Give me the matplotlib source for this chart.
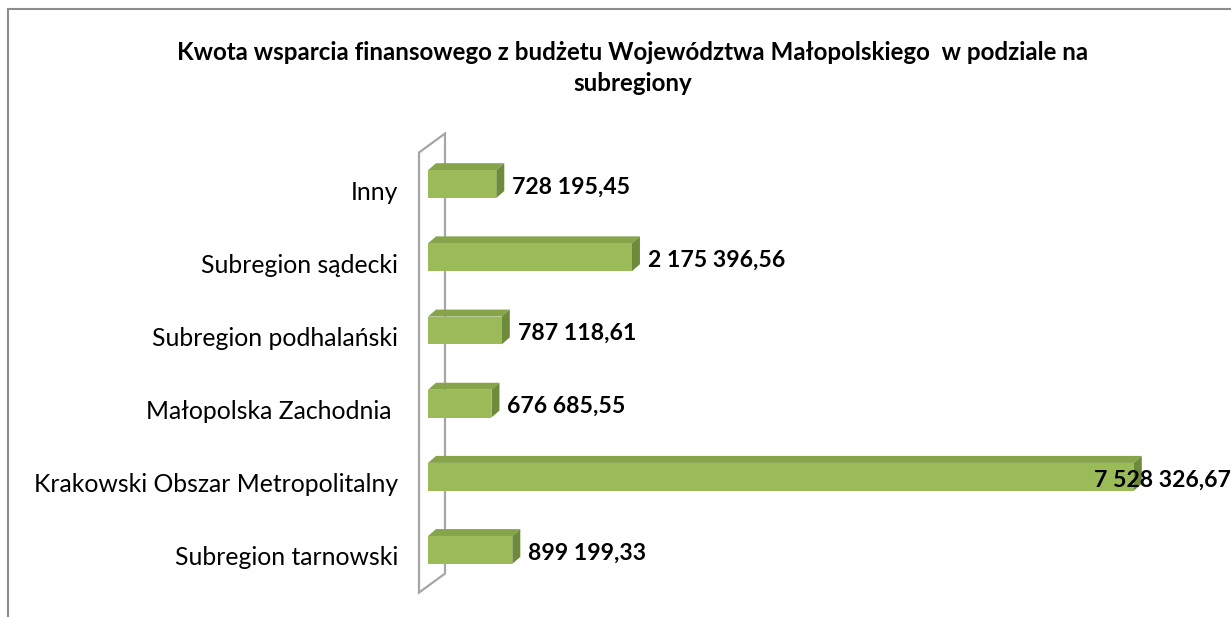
import numpy as np
import matplotlib.pyplot as plt
from matplotlib.patches import Polygon
from matplotlib.lines import Line2D

plt.rcParams['font.family'] = ['Lato', 'DejaVu Sans']

# data (bottom to top)
categories = ['Subregion tarnowski', 'Krakowski Obszar Metropolitalny',
              'Małopolska Zachodnia ', 'Subregion podhalański',
              'Subregion sądecki', 'Inny']
values = [899199.33, 7528326.67, 676685.55, 787118.61, 2175396.56, 728195.45]
value_labels = ['899 199,33', '7 528 326,67', '676 685,55', '787 118,61',
                '2 175 396,56', '728 195,45']
title = 'Kwota wsparcia finansowego z budżetu Województwa Małopolskiego  w podziale na\nsubregiony'

W, H = 1231, 617
fig = plt.figure(figsize=(W / 100, H / 100), dpi=100)
ax = fig.add_axes([428 / W, 0.0493, 750 / W, 0.7116])
ax.set_xlim(0, 8.0e6)
ax.set_ylim(-0.5, len(categories) - 0.5)
ax.axis('off')

# pixel -> data unit conversions
ppx = 8.0e6 / 750          # data x per pixel
ppy = 6.0 / 439            # data y per pixel

front = '#9BBB59'
top_c = '#86A44A'
side_c = '#6D8B3A'
wall_c = '#A6A6A6'

# side wall
wall = Polygon([(-9 * ppx, -0.5 - 6 * ppy), (17 * ppx, -0.5 + 13 * ppy),
                (17 * ppx, 5.5 + 14 * ppy), (-9 * ppx, 5.5 - 5 * ppy)],
               closed=True, facecolor='none', edgecolor=wall_c, lw=1.6,
               clip_on=False, zorder=1)
ax.add_patch(wall)

bh = 0.38
dx, dy = 8 * ppx, 7 * ppy
ypos = np.arange(len(categories))
ax.barh(ypos, values, height=bh, color=front, zorder=3)
for y, v in zip(ypos, values):
    t = y + bh / 2
    b = y - bh / 2
    ax.add_patch(Polygon([(0, t), (v, t), (v + dx, t + dy), (dx, t + dy)],
                         facecolor=top_c, edgecolor='none', zorder=2, clip_on=False))
    ax.add_patch(Polygon([(v, b), (v, t), (v + dx, t + dy), (v + dx, b + dy)],
                         facecolor=side_c, edgecolor='none', zorder=2, clip_on=False))

vmax = max(values)
for y, v, lab in zip(ypos, values, value_labels):
    x = v + 16 * ppx if v < vmax else v - 40 * ppx
    ax.text(x, y - 3 * ppy, lab, ha='left', va='center', fontsize=16.6,
            fontweight='bold', color='black', clip_on=False, zorder=5)

for y, lab in zip(ypos, categories):
    ax.text(-30 * ppx, y - 8 * ppy, lab, ha='right', va='center',
            fontsize=17.8, color='black', clip_on=False)

fig.text(633 / W, 1 - 68 / H, title, ha='center', va='center', fontsize=17.4,
         fontweight='bold', linespacing=1.45)

# chart border (left and top only visible)
fig.add_artist(Line2D([8 / W, 8 / W], [0, 1 - 9 / H], color='#8C8C8C', lw=1.5))
fig.add_artist(Line2D([8 / W, 1], [1 - 9 / H, 1 - 9 / H], color='#8C8C8C', lw=1.5))

fig.savefig('out.png', dpi=100)
